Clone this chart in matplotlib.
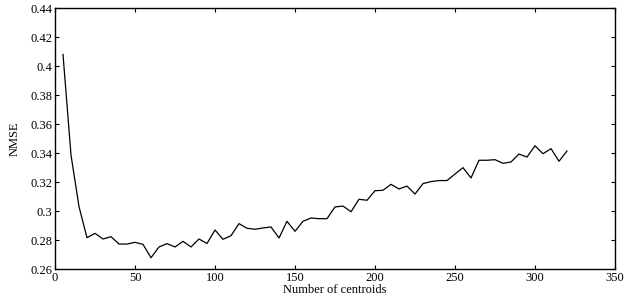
import numpy as np
import matplotlib.pyplot as plt

centroids = list(range(5, 325, 5))
nmse = [0.408, 0.3386, 0.303, 0.2816, 0.2846, 0.2807, 0.2823, 0.2772, 0.2772, 0.2784,
        0.2770, 0.2678, 0.2752, 0.2775, 0.2752, 0.2791, 0.2752, 0.2807, 0.2776, 0.2869,
        0.2805, 0.2830, 0.2913, 0.2881, 0.2874, 0.2883, 0.2890, 0.2814, 0.2929, 0.2860,
        0.2929, 0.2952, 0.2947, 0.2947, 0.3028, 0.3034, 0.2995, 0.3081, 0.3074, 0.3140,
        0.3143, 0.3184, 0.3152, 0.3172, 0.3117, 0.3189, 0.3203, 0.3210, 0.3210, 0.3255,
        0.3299, 0.3228, 0.3350, 0.3350, 0.3354, 0.3329, 0.3338, 0.3393, 0.3372, 0.3450,
        0.3395, 0.3430, 0.3343, 0.3414]

plt.rcParams['font.family'] = ['Liberation Serif', 'DejaVu Serif']

fig = plt.figure(figsize=(6.25, 3.08), dpi=100)
ax = fig.add_axes([0.088, 0.1266, 0.896, 0.8474])
ax.plot(centroids, nmse, 'k-', linewidth=0.9)
ax.set_xlim(0, 350)
ax.set_ylim(0.26, 0.44)
ax.set_xticks(np.arange(0, 351, 50))
ax.set_yticks(np.arange(0.26, 0.4401, 0.02))
ax.set_xticklabels([str(v) for v in range(0, 351, 50)])
ax.set_yticklabels(['0.26', '0.28', '0.3', '0.32', '0.34', '0.36', '0.38', '0.4', '0.42', '0.44'])
ax.tick_params(direction='in', top=True, right=True, labelsize=9, length=3, width=0.8, pad=2)
for s in ax.spines.values():
    s.set_linewidth(1.0)
ax.set_xlabel('Number of centroids', fontsize=9, labelpad=0)
ax.set_ylabel('NMSE', fontsize=9, labelpad=7)

fig.savefig('out.png', dpi=100)
